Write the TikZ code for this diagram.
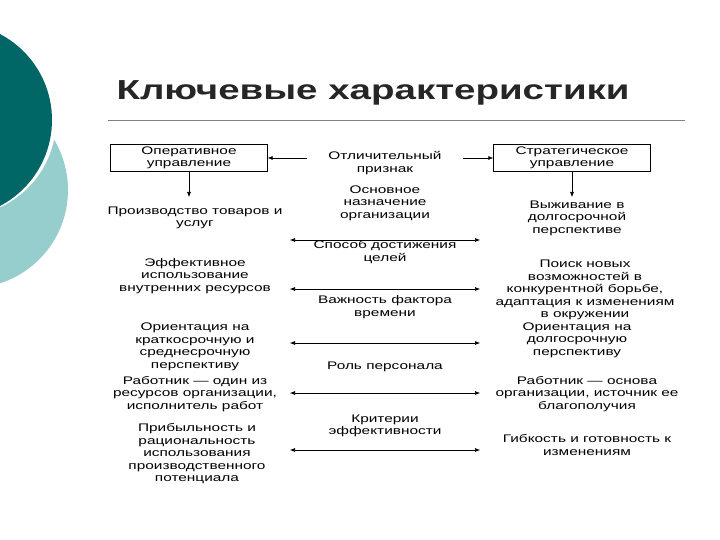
\documentclass[tikz,border=0pt]{standalone}
\usepackage{fontspec}
\setmainfont[FakeStretch=1.4]{Liberation Sans}
\usetikzlibrary{arrows.meta}
\begin{document}
\begin{tikzpicture}[x=1pt,y=-1pt,
  txt/.style={align=center,font=\fontsize{11}{12.5}\selectfont,inner sep=1pt},
  bx/.style={txt,draw,minimum width=157pt,minimum height=27pt},
  arr/.style={-{Latex[length=5pt,width=4pt]},line width=0.6pt},
  darr/.style={{Latex[length=5pt,width=4pt]}-{Latex[length=5pt,width=4pt]},line width=0.6pt}]
\useasboundingbox (0,0) rectangle (720,540);
\fill[white] (0,0) rectangle (720,540);
\begin{scope}
\clip (0,0) rectangle (720,540);
\fill[color={rgb,255:red,150;green,205;blue,205}] (-30,190) circle (98);
\fill[white] (-40,120) circle (96);
\fill[color={rgb,255:red,0;green,102;blue,102}] (-45,120) circle (97);
\end{scope}
\node[anchor=west,font=\fontsize{27.5}{31}\selectfont\bfseries,text=black!85] (title) at (113,93) {Ключевые характеристики};
\draw[gray,line width=0.6pt] (108,120) -- (685,120);
\node[bx] (op) at (189,158) {Оперативное\\управление};
\node[bx] (st) at (572,158) {Стратегическое\\управление};
\node[txt] (m0) at (385,163) {Отличительный\\признак};
\coordinate (t0l) at (307,158); \coordinate (t0r) at (463,158);
\draw[arr] (t0l) -- (op.east);
\draw[arr] (t0r) -- (st.west);
\node[txt] (l1) at (195,218) {Производство товаров и\\услуг};
\node[txt] (r1) at (577,218) {Выживание в\\долгосрочной\\перспективе};
\draw[arr] (op.south) -- (op.south |- 0,197);
\draw[arr] (st.south) -- (st.south |- 0,197);
\node[txt] (m1) at (385,203) {Основное\\назначение\\организации};
\coordinate (a1l) at (290,240); \coordinate (a1r) at (480,240);
\draw[darr] (a1l) -- (a1r);
\node[txt] (m2) at (385,252) {Способ достижения\\целей};
\node[txt] (l2) at (195,276) {Эффективное\\использование\\внутренних ресурсов};
\node[txt] (r2) at (585,290) {Поиск новых\\возможностей в\\конкурентной борьбе,\\адаптация к изменениям\\в окружении};
\coordinate (a2l) at (290,289); \coordinate (a2r) at (480,289);
\draw[darr] (a2l) -- (a2r);
\node[txt] (m3) at (385,307) {Важность фактора\\времени};
\node[txt] (l3) at (195,347) {Ориентация на\\краткосрочную и\\среднесрочную\\перспективу};
\node[txt] (r3) at (577,340) {Ориентация на\\долгосрочную\\перспективу};
\coordinate (a3l) at (290,343); \coordinate (a3r) at (480,343);
\draw[darr] (a3l) -- (a3r);
\node[txt] (m4) at (385,367) {Роль персонала};
\node[txt] (l4) at (195,394) {Работник — один из\\ресурсов организации,\\исполнитель работ};
\node[txt] (r4) at (587,394) {Работник — основа\\организации, источник ее\\благополучия};
\coordinate (a4l) at (290,393); \coordinate (a4r) at (480,393);
\draw[darr] (a4l) -- (a4r);
\node[txt] (m5) at (385,426) {Критерии\\эффективности};
\node[txt] (l5) at (197,454) {Прибыльность и\\рациональность\\использования\\производственного\\потенциала};
\node[txt] (r5) at (587,445) {Гибкость и готовность к\\изменениям};
\coordinate (a5l) at (290,450); \coordinate (a5r) at (480,450);
\draw[darr] (a5l) -- (a5r);
\end{tikzpicture}
\end{document}
